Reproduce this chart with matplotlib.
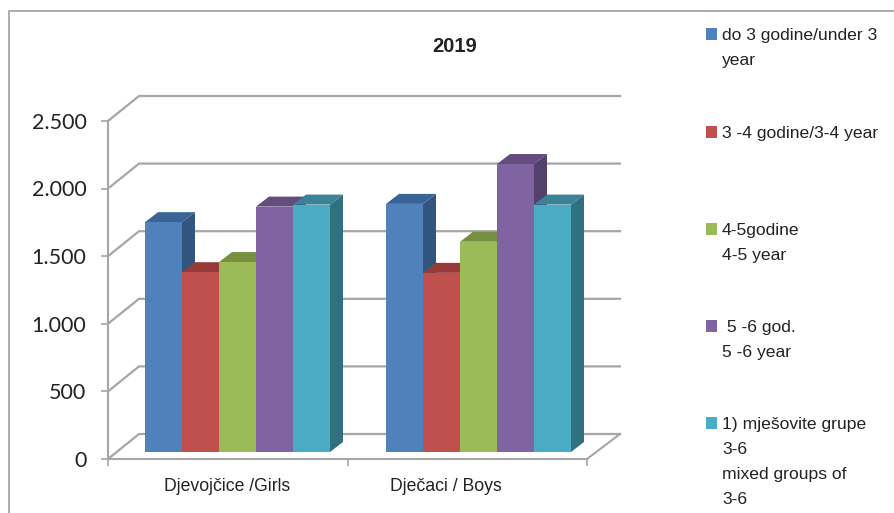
import matplotlib
matplotlib.use("Agg")
import matplotlib.pyplot as plt
from matplotlib.patches import Polygon, Rectangle
from matplotlib.transforms import ScaledTranslation

categories = ["Djevojčice /Girls", "Dječaci / Boys"]
do3 = [1700, 1835]
od3do4 = [1330, 1325]
od4do5 = [1405, 1555]
od5do6 = [1815, 2130]
mixed = [1830, 1830]
yticks = [0, 500, 1000, 1500, 2000, 2500]
ylabels = ["0", "500", "1.000", "1.500", "2.000", "2.500"]
series = [do3, od3do4, od4do5, od5do6, mixed]
front = ["#4F81BD", "#C0504D", "#9BBB59", "#8064A2", "#4BACC6"]
top = ["#3A6494", "#953B39", "#77903F", "#634C7E", "#3A8296"]
side = ["#31557F", "#7F3230", "#657B36", "#54406C", "#31707F"]
legend_labels = ["do 3 godine/under 3\nyear", "3 -4 godine/3-4 year", "4-5godine\n4-5 year",
                 " 5 -6 god.\n5 -6 year", "1) mješovite grupe\n3-6\nmixed groups of\n3-6"]
legend_y = [28, 126, 223, 320, 417]
cat_x = [227.5, 446]

W, H = 895, 513
font = "Liberation Sans"

fig = plt.figure(figsize=(W / 100, H / 100), dpi=100)
ax = fig.add_axes([108 / W, 1 - 459 / H, (587 - 108) / W, (459 - 121) / H])
ax.set_xlim(0, 2)
ax.set_ylim(0, 2500)
ax.patch.set_visible(False)
for s in ["top", "right"]:
    ax.spines[s].set_visible(False)
for s in ["left", "bottom"]:
    ax.spines[s].set_color("#A6A6A6")
    ax.spines[s].set_linewidth(1.5)

# px -> data units
ux = 2 / (587 - 108)
uy = 2500 / (459 - 121)
wall_x, wall_y = 31 * ux, 25 * uy
grey = "#A6A6A6"
for v in yticks:
    ax.plot([0, wall_x, (620 - 108) * ux], [v, v + wall_y, v + wall_y], color=grey, lw=1.6,
            clip_on=False, zorder=1)
ax.plot([2, 2 + wall_x * 33 / 31], [0, wall_y], color=grey, lw=1.5, clip_on=False, zorder=1)

ax.set_yticks(yticks)
ax.set_yticklabels(ylabels, fontsize=15.5, family="Lato", color="#222222")
ax.set_xticks([0, 1, 2])
ax.set_xticklabels([])
ax.tick_params(axis="both", color=grey, width=1.2, length=5)
ax.tick_params(axis="y", pad=10.5)
for lab in ax.get_yticklabels():
    lab.set_transform(lab.get_transform() + ScaledTranslation(0, 0.2 / 72, fig.dpi_scale_trans))
for i, c in enumerate(categories):
    ax.text((cat_x[i] - 108) * ux, -205, c, ha="center", va="center",
            fontsize=12.7, family=font, color="#222222")

# bar geometry
bw = 37 * ux
dx, dy = 13 * ux, 10 * uy
base = 7 * uy
starts = [(145 - 108) * ux, (386 - 108) * ux]
z = 3
for g, x0 in enumerate(starts):
    for k, vals in enumerate(series):
        x = x0 + k * bw
        v = vals[g] + base
        ax.add_patch(Polygon([(x + bw, base), (x + bw + dx, base + dy), (x + bw + dx, v + dy), (x + bw, v)],
                             fc=side[k], ec="none", zorder=z, clip_on=False))
        ax.add_patch(Polygon([(x, v), (x + dx, v + dy), (x + bw + dx, v + dy), (x + bw, v)],
                             fc=top[k], ec="none", zorder=z, clip_on=False))
        ax.bar(x, vals[g], bw, bottom=base, align="edge", color=front[k], zorder=z + 1)
        z += 2

# outer frame
fig.add_artist(plt.Line2D([9 / W, 9 / W, 1], [0, 1 - 11 / H, 1 - 11 / H], color=grey, lw=1.3))

fig.text(455 / W, 1 - 46.5 / H, "2019", ha="center", va="center", fontsize=14.5, fontweight="bold",
         family=font, color="#222222")

for k, lab in enumerate(legend_labels):
    fig.add_artist(Rectangle((706 / W, 1 - (legend_y[k] + 12) / H), 11.5 / W, 12 / H, fc=front[k], ec="none",
                             transform=fig.transFigure))
    fig.text(722 / W, 1 - legend_y[k] / H, lab, ha="left", va="top", fontsize=12.6, family=font,
             color="#222222", linespacing=1.83)

fig.savefig("out.png", dpi=100)
